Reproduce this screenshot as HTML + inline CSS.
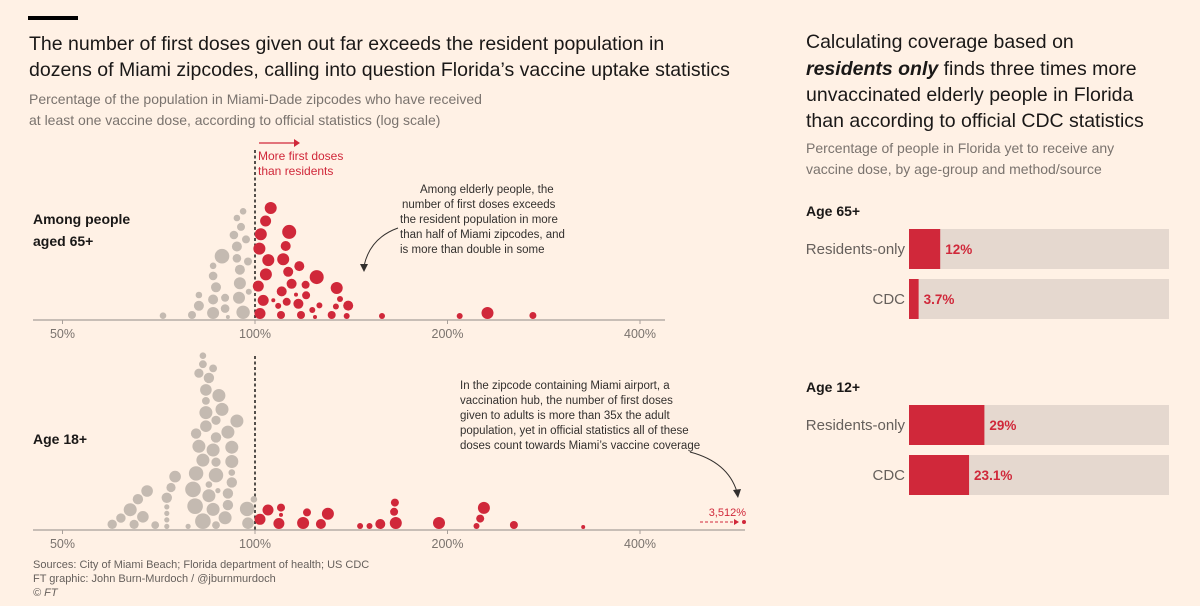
<!DOCTYPE html>
<html><head><meta charset="utf-8">
<style>
body{margin:0;background:#fff1e5;}
svg{display:block;font-family:"Liberation Sans",sans-serif;}
</style></head>
<body>
<svg id="chart" width="1200" height="606" viewBox="0 0 1200 606">
<rect width="1200" height="606" fill="#fff1e5"/>
<rect x="28" y="16" width="50" height="4" fill="#000"/>
<g fill="#1a1817" font-size="19.5">
<text x="29" y="50">The number of first doses given out far exceeds the resident population in</text>
<text x="29" y="76">dozens of Miami zipcodes, calling into question Florida’s vaccine uptake statistics</text>
</g>
<g fill="#7a736e" font-size="14">
<text x="29" y="104">Percentage of the population in Miami-Dade zipcodes who have received</text>
<text x="29" y="125">at least one vaccine dose, according to official statistics (log scale)</text>
</g>
<g fill="#1a1817" font-size="14" font-weight="bold">
<text x="33" y="224">Among people</text><text x="33" y="246">aged 65+</text></g>
<text x="33" y="444" font-size="14" font-weight="bold" fill="#1a1817">Age 18+</text>

<g id="swarm"></g>

<g>
<line x1="259" y1="143" x2="294" y2="143" stroke="#d0283a" stroke-width="1.3"/>
<path d="M294,139 L300,143 L294,147Z" fill="#d0283a"/>
<text x="258" y="160" font-size="12" fill="#d0283a">More first doses</text>
<text x="258" y="175" font-size="12" fill="#d0283a">than residents</text>
</g>
<g font-size="11.5" fill="#33302e">
<text x="420" y="193">Among elderly people, the</text>
<text x="402" y="208">number of first doses exceeds</text>
<text x="400" y="223">the resident population in more</text>
<text x="400" y="238">than half of Miami zipcodes, and</text>
<text x="400" y="253">is more than double in some</text>
<path d="M398,228 Q370,238 364,266" fill="none" stroke="#33302e" stroke-width="1"/>
<path d="M360,264 L364,272 L368,264Z" fill="#33302e"/>
</g>
<g font-size="11.5" fill="#33302e">
<text x="460" y="389">In the zipcode containing Miami airport, a</text>
<text x="460" y="404">vaccination hub, the number of first doses</text>
<text x="460" y="419">given to adults is more than 35x the adult</text>
<text x="460" y="434">population, yet in official statistics all of these</text>
<text x="460" y="449">doses count towards Miami’s vaccine coverage</text>
<path d="M690,452 Q728,462 737,492" fill="none" stroke="#33302e" stroke-width="1"/>
<path d="M733,490 L738,498 L741,489Z" fill="#33302e"/>
</g>
<g>
<text x="746" y="516" font-size="11" fill="#d0283a" text-anchor="end">3,512%</text>
<line x1="700" y1="522" x2="734" y2="522" stroke="#d0283a" stroke-dasharray="3,2"/>
<path d="M734,519 L739,522 L734,525Z" fill="#d0283a"/>
<circle cx="744" cy="522" r="2" fill="#d0283a"/>
</g>
<g font-size="11" fill="#66605c">
<text x="33" y="568">Sources: City of Miami Beach; Florida department of health; US CDC</text>
<text x="33" y="582">FT graphic: John Burn-Murdoch / @jburnmurdoch</text>
<text x="33" y="596" font-style="italic">© FT</text>
</g>

<g fill="#1a1817" font-size="19.5">
<text x="806" y="48">Calculating coverage based on</text>
<text x="806" y="75"><tspan font-weight="bold" font-style="italic">residents only</tspan> finds three times more</text>
<text x="806" y="101">unvaccinated elderly people in Florida</text>
<text x="806" y="127">than according to official CDC statistics</text>
</g>
<g fill="#7a736e" font-size="14">
<text x="806" y="153">Percentage of people in Florida yet to receive any</text>
<text x="806" y="174">vaccine dose, by age-group and method/source</text>
</g>
<g id="bars"></g>
</svg>
<script>
// ---- beeswarm data (value %, radius) ----
const top65Values = [71.8,79.7,81.7,81.7,86,86,86.9,86,86,88.8,89.8,89.8,90.7,95.8,94.4,94.7,94.7,93.7,93.7,92.7,96.8,95.1,93.7,97.5,95.8,97.8,
 101.8,103.0,101.2,104.0,104.9,101.6,102.1,103.9,105.8,109.8,108.7,112.1,110.1,114.1,118.0,116.9,112.7,120.2,117.3,106.8,110.7,111.7,115.9,120.0,124.1,122.9,126.1,113.1,124.9,131.8,133.8,139.1,135.8,134.2,139.9,158,209,231,272];
const top65Radii = [3.3,4,5,3.3,6,5,5,4.3,3.3,7.3,4.3,4,2,6.7,6,6,5,4.3,5,4.3,4,4,3.3,4,3.3,3,
 5.5,5.5,5.5,6,6,6,6,5.5,6,4,3,4,5,5,4,5,5,4,5,2,6,5,2,4,2,3,3,7,7,4,3,3,3,6,5,3,3,6,3.5];
const age18Values = [59.8,61.7,63.8,64.7,65.6,66.8,67.8,69.8,72.8,72.8,72.8,72.8,72.8,73.9,75.0,78.6,
 82.9,80.6,80.0,80.9,82.9,81.7,80.9,83.8,86.0,84.7,83.8,84.7,83.8,86.9,86.9,86.0,83.8,84.7,81.7,82.9,82.9,86.9,86.9,86.9,86.0,87.5,88.8,87.8,89.8,90.7,90.7,92.0,92.0,92.0,92.0,90.7,93.7,97.5,97.2,99.6,
 101.8,104.8,109,109.8,109.8,118.9,120.6,126.8,130,146,151,157,166,165,165.5,194,222,225,228,254,326];
const age18Radii = [4.7,4.7,6.5,4.6,5.2,5.8,5.8,3.9,2.6,2.6,2.6,2.6,5.2,4.6,5.8,2.6,
 7.8,7.8,7.8,7.2,6.5,6.5,5.2,5.8,6.5,6.5,6.5,3.3,3.9,7.2,3.9,6.5,5.8,5.2,4.6,3.9,3.3,5.2,4.6,4.6,3.9,2.6,6.5,6.5,6.5,5.2,5.2,5.2,3.3,6.5,6.5,6.5,6.5,5.8,7.2,3.3,
 5.5,5.5,5.5,2,4,6,4,5,6,3,3,5,6,4,4,6,3,4,6,4,2];
const tickValues = [50,100,200,400];
const tickLabels = ["50%","100%","200%","400%"];
// ---- bar data ----
const barGroups = ["Age 65+","Age 12+"];
const barMethods = ["Residents-only","CDC"];
const barValues = [[12,3.7],[29,23.1]];
const barLabels = [["12%","3.7%"],["29%","23.1%"]];

const NS="http://www.w3.org/2000/svg";
function mk(tag,attrs,parent){const e=document.createElementNS(NS,tag);for(const k in attrs)e.setAttribute(k,attrs[k]);parent.appendChild(e);return e;}
const xScale = v => 255 + 192.5*Math.log2(v/100);
const RED="#d0283a", GREY="#c4bab1";

function swarm(values, radii, baseline, g, nameBase, pad){
  const placed=[];
  values.forEach((v,i)=>{
    const x=xScale(values[i]), r=radii[i];
    const cands=[baseline-r-1];
    placed.forEach(p=>{const dx=x-p.x, d=p.r+r+pad+0.1; if(Math.abs(dx)<d){cands.push(p.y-Math.sqrt(d*d-dx*dx));}});
    cands.sort((a,b)=>b-a);
    let y=cands[0];
    for(const c of cands){ if(c>baseline-r-1) continue; if(placed.every(p=>{const dx=x-p.x,dy=c-p.y;return dx*dx+dy*dy>=(p.r+r+pad)*(p.r+r+pad)-0.01;})){y=c;break;} }
    placed.push({x,y,r});
    const c=mk("circle",{cx:x.toFixed(1),cy:y.toFixed(1),r:r,fill:values[i]>=100?RED:GREY},g);
    
    
  });
}
function axis(baseline, x2, dashTop, g, nameBase){
  const l=mk("line",{x1:33,y1:baseline,x2:x2,y2:baseline,stroke:"#a8a09a","stroke-width":1.3},g);
  
  
  tickValues.forEach((t,i)=>{
    const x=xScale(t);
    const tk=mk("line",{x1:x,y1:baseline,x2:x,y2:baseline+4,stroke:"#a8a09a"},g);
    
    
    const tx=mk("text",{x:x,y:baseline+18,"text-anchor":"middle","font-size":"12.5",fill:"#7a736e"},g);
    tx.textContent=tickLabels[i];
    
    
  });
  const d=mk("line",{x1:xScale(100),y1:dashTop,x2:xScale(100),y2:baseline,stroke:"#1a1817","stroke-width":1.5,"stroke-dasharray":"3,2.5"},g);
  
  
}
const sw=document.getElementById("swarm");
const gTop=mk("g",{},sw);


const gBot=mk("g",{},sw);


axis(320,665,150,gTop,'age65');
swarm(top65Values,top65Radii,320,gTop,'age65',2.4);
axis(530,745,356,gBot,'age18');
swarm(age18Values,age18Radii,530,gBot,'age18',1.2);

// bars
const bg=document.getElementById("bars");
const bx0=909, bw=260, groupTop=[229,405], rowGap=50, bh=40;
barGroups.forEach((grp,gi)=>{
  const t=mk("text",{x:806,y:groupTop[gi]-13,"font-size":"14","font-weight":"bold",fill:"#1a1817"},bg);
  t.textContent=grp;
  
  
  barMethods.forEach((m,mi)=>{
    const y=groupTop[gi]+mi*rowGap;
    const track=mk("rect",{x:bx0,y:y,width:bw,height:bh,fill:"#e5d8cf"},bg);
    
    
    const w=bw*barValues[gi][mi]/100;
    const b=mk("rect",{x:bx0,y:y,width:w,height:bh,fill:RED},bg);
    
    
    const lb=mk("text",{x:bx0-4,y:y+bh/2+5,"text-anchor":"end","font-size":"15",fill:"#66605c"},bg);
    lb.textContent=m;
    
    
    const vl=mk("text",{x:bx0+w+5,y:y+bh/2+5,"font-size":"13.5","font-weight":"bold",fill:RED},bg);
    vl.textContent=barLabels[gi][mi];
    
    
  });
});
</script>
</body></html>
